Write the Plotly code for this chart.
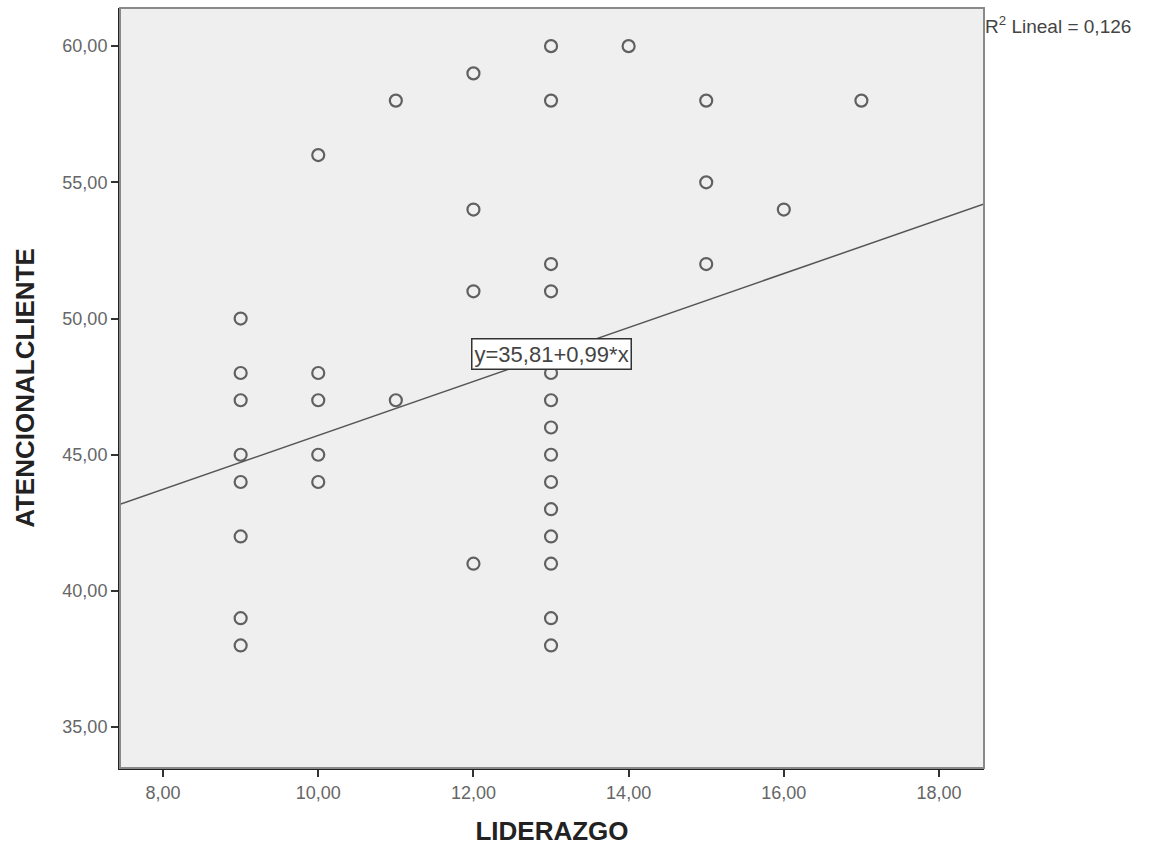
import plotly.graph_objects as go

liderazgo = [9, 9, 9, 9, 9, 9, 9, 9,
             10, 10, 10, 10, 10,
             11, 11,
             12, 12, 12, 12,
             13, 13, 13, 13, 13, 13, 13, 13, 13, 13, 13, 13, 13, 13,
             14,
             15, 15, 15,
             16,
             17]
atencion = [50, 48, 47, 45, 44, 42, 39, 38,
            56, 48, 47, 45, 44,
            58, 47,
            59, 54, 51, 41,
            60, 58, 52, 51, 48, 47, 46, 45, 44, 43, 42, 41, 39, 38,
            60,
            58, 55, 52,
            54,
            58]

intercept = 35.81
slope = 0.99
r2 = "0,126"
x_range = [7.445, 18.58]
y_range = [33.5, 61.4]

fit_x = x_range
fit_y = [intercept + slope * v for v in fit_x]

FONT = "Liberation Sans, Arial, sans-serif"

fig = go.Figure()
fig.add_trace(go.Scatter(
    x=fit_x, y=fit_y, mode="lines",
    line=dict(color="#555555", width=1.5),
    hoverinfo="skip", showlegend=False))
fig.add_trace(go.Scatter(
    x=liderazgo, y=atencion, mode="markers",
    marker=dict(symbol="circle-open", size=12,
                line=dict(width=2.2, color="rgba(70,70,70,0.85)"),
                color="rgba(70,70,70,0.85)"),
    showlegend=False))

fig.add_annotation(
    x=13.006, y=48.70, xref="x", yref="y",
    text="y=35,81+0,99*x", showarrow=False,
    font=dict(family=FONT, size=22, color="#444444"),
    bgcolor="white", bordercolor="#333333", borderwidth=1.5, borderpad=2)

fig.add_annotation(
    x=1, y=0.9776, xref="paper", yref="paper", xanchor="left", yanchor="middle",
    xshift=-1,
    text="R<sup>2</sup> Lineal = " + r2, showarrow=False,
    font=dict(family=FONT, size=19, color="#444444"))

fig.add_shape(type="rect", xref="paper", yref="paper", x0=0, y0=0, x1=1, y1=1,
              line=dict(color="#8a8a8a", width=2), layer="above")

axis_common = dict(
    showgrid=False, zeroline=False, showline=True, linecolor="#222222", linewidth=2,
    ticks="outside", ticklen=7, tickwidth=2, tickcolor="#333333",
    tickformat=".2f",
    tickfont=dict(family=FONT, size=18, color="#666666"),
)

fig.update_xaxes(range=x_range, tickvals=[8, 10, 12, 14, 16, 18],
                 title=dict(text="<b>LIDERAZGO</b>", standoff=20,
                            font=dict(family=FONT, size=26, color="#222222")),
                 **axis_common)
fig.update_yaxes(range=y_range, tickvals=[35, 40, 45, 50, 55, 60],
                 title=dict(text="<b>ATENCIONALCLIENTE</b>", standoff=20,
                            font=dict(family=FONT, size=26, color="#222222")),
                 **axis_common)

fig.update_layout(
    width=1152, height=855,
    margin=dict(l=120, r=168, t=8, b=87),
    plot_bgcolor="#efefef", paper_bgcolor="white",
    separators=",.",
)

fig.write_html("out.html")
